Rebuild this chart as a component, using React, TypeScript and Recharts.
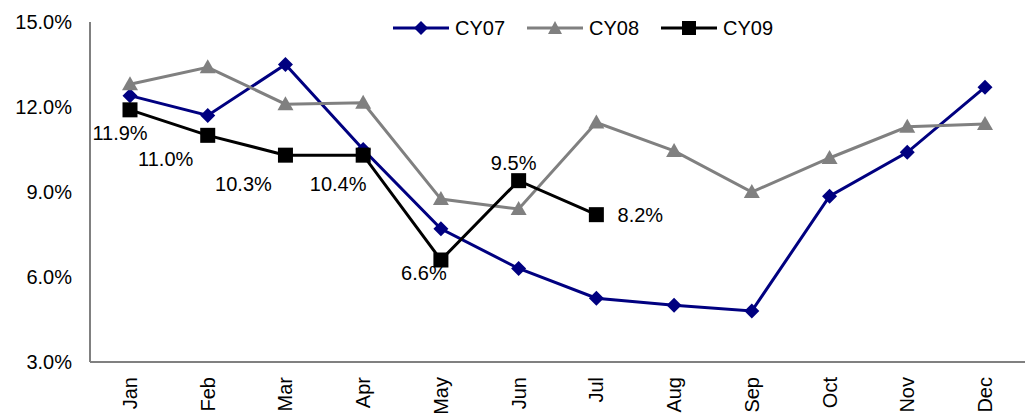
import { Legend, Line, LineChart, LabelList, XAxis, YAxis } from "recharts";

const months = ["Jan", "Feb", "Mar", "Apr", "May", "Jun", "Jul", "Aug", "Sep", "Oct", "Nov", "Dec"];
const cy07 = [12.4, 11.7, 13.5, 10.5, 7.7, 6.3, 5.25, 5.0, 4.8, 8.85, 10.4, 12.7];
const cy08 = [12.8, 13.4, 12.1, 12.15, 8.75, 8.4, 11.45, 10.45, 9.0, 10.2, 11.3, 11.4];
const cy09 = [11.9, 11.0, 10.3, 10.3, 6.6, 9.4, 8.2];
const cy09Labels = ["11.9%", "11.0%", "10.3%", "10.4%", "6.6%", "9.5%", "8.2%"];
const yTicks = [3, 6, 9, 12, 15];

const data = months.map((m, i) => ({
  month: m,
  cy07: cy07[i],
  cy08: cy08[i],
  cy09: i < cy09.length ? cy09[i] : null,
}));

const FONT = "'Liberation Sans', Arial, sans-serif";
const NAVY = "#000080";
const GREY = "#808080";

// label offsets for the CY09 values, relative to each point
const labelOffsets = [
  [-10, 23],
  [-42, 24],
  [-42, 29],
  [-25, 29],
  [-17, 13],
  [-5, -18],
  [44, 0],
];

function Diamond(props: any) {
  const { cx, cy } = props;
  if (cx == null || cy == null) return null;
  const r = 7.5;
  return <path d={`M${cx},${cy - r}L${cx + r},${cy}L${cx},${cy + r}L${cx - r},${cy}Z`} fill={NAVY} />;
}

function Triangle(props: any) {
  const { cx, cy } = props;
  if (cx == null || cy == null) return null;
  return <path d={`M${cx},${cy - 8}L${cx + 8},${cy + 6}L${cx - 8},${cy + 6}Z`} fill={GREY} />;
}

function Square(props: any) {
  const { cx, cy } = props;
  if (cx == null || cy == null) return null;
  return <rect x={cx - 7.5} y={cy - 7.5} width={15} height={15} fill="#000" />;
}

function MonthTick(props: any) {
  const { x, y, payload } = props;
  return (
    <text
      transform={`translate(${x},${y}) rotate(-90)`}
      textAnchor="end"
      dominantBaseline="central"
      fontFamily={FONT}
      fontSize={20}
      fill="#000"
    >
      {payload.value}
    </text>
  );
}

function Cy09Label(props: any) {
  const { x, y, index } = props;
  const [dx, dy] = labelOffsets[index] || [0, 0];
  return (
    <text
      x={x + dx}
      y={y + dy}
      textAnchor="middle"
      dominantBaseline="central"
      fontFamily={FONT}
      fontSize={20}
      fill="#000"
    >
      {cy09Labels[index]}
    </text>
  );
}

const legendItems = [
  { name: "CY07", color: NAVY, marker: "diamond" },
  { name: "CY08", color: GREY, marker: "triangle" },
  { name: "CY09", color: "#000", marker: "square" },
];

function LegendContent() {
  return (
    <div style={{ display: "flex", fontFamily: FONT, fontSize: 20, height: 24, alignItems: "center" }}>
      {legendItems.map((it) => (
        <div key={it.name} style={{ display: "flex", alignItems: "center", marginRight: 21 }}>
          <svg width={58} height={20} style={{ marginRight: 5 }}>
            <line x1={1} y1={10} x2={57} y2={10} stroke={it.color} strokeWidth={3} />
            {it.marker === "diamond" && <path d="M29,3L36,10L29,17L22,10Z" fill={it.color} />}
            {it.marker === "triangle" && <path d="M29,3L36,16L22,16Z" fill={it.color} />}
            {it.marker === "square" && <rect x={22} y={3} width={14} height={14} fill={it.color} />}
          </svg>
          <span>{it.name}</span>
        </div>
      ))}
    </div>
  );
}

export default function App() {
  return (
    <div style={{ position: "absolute", left: 0, top: 0, width: 1033, height: 415, background: "#fff" }}>
      <LineChart width={1033} height={415} data={data} margin={{ top: 22, right: 8, left: 0, bottom: 0 }}>
        <XAxis
          dataKey="month"
          axisLine={{ stroke: GREY, strokeWidth: 2 }}
          tickLine={false}
          height={53}
          interval={0}
          padding={{ left: 40, right: 40 }}
          tick={<MonthTick />}
          tickMargin={9}
        />
        <YAxis
          domain={[3, 15]}
          ticks={yTicks}
          width={90}
          axisLine={{ stroke: GREY, strokeWidth: 2 }}
          tickLine={false}
          tickMargin={12}
          tickFormatter={(v: number) => `${v.toFixed(1)}%`}
          tick={{ fontFamily: FONT, fontSize: 20, fill: "#000" }}
        />
        <Legend
          verticalAlign="middle"
          layout="horizontal"
          content={<LegendContent />}
          wrapperStyle={{ position: "absolute", top: 16, left: 392, width: 420, height: 24 }}
        />
        <Line
          dataKey="cy07"
          stroke={NAVY}
          strokeWidth={3}
          dot={<Diamond />}
          activeDot={false}
          isAnimationActive={false}
        />
        <Line
          dataKey="cy08"
          stroke={GREY}
          strokeWidth={3}
          dot={<Triangle />}
          activeDot={false}
          isAnimationActive={false}
        />
        <Line
          dataKey="cy09"
          stroke="#000"
          strokeWidth={3}
          dot={<Square />}
          activeDot={false}
          isAnimationActive={false}
        >
          <LabelList dataKey="cy09" content={<Cy09Label />} />
        </Line>
      </LineChart>
    </div>
  );
}
